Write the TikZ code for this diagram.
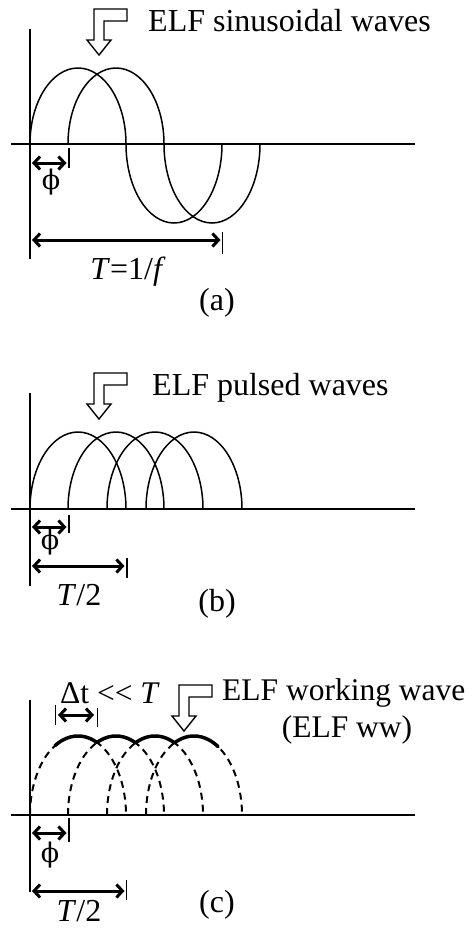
\documentclass[tikz,border=0pt]{standalone}
\usepackage{fontspec}
\setmainfont{Liberation Serif}
\newfontfamily\phifont{DejaVu Serif}
\usetikzlibrary{arrows.meta}
\begin{document}
\begin{tikzpicture}[x=1pt,y=-1pt,
  axisline/.style={line width=1.4pt},
  wave/.style={line width=1.5pt},
  dimarrow/.style={line width=3pt,{Straight Barb[length=6pt,width=13pt]}-{Straight Barb[length=6pt,width=13pt]}},
  tickmark/.style={line width=1.6pt},
  lbl/.style={inner sep=0pt,font=\fontsize{32}{38}\selectfont},
  lblc/.style={inner sep=0pt,font=\fontsize{31.5}{37}\selectfont},
  phil/.style={inner sep=0pt,font=\phifont\fontsize{27}{32}\selectfont},
  blockarrow/.style={line width=1.4pt,fill=white,line join=miter},
  env/.style={line width=3.5pt,line cap=round},
  dashwave/.style={line width=2pt,dash pattern=on 7pt off 5pt},
  barrow/.pic={\draw[blockarrow] (-5,-46) -- (28,-46) -- (28,-34) -- (5,-34) -- (5,-15) -- (12,-15) -- (0,0) -- (-12,-15) -- (-5,-15) -- cycle;}]
\useasboundingbox (0,0) rectangle (475,930);

% ---------- (a) ----------
\draw[axisline] (30,29) -- (30,259);
\draw[axisline] (11,144) -- (415,144);
\foreach \s in {30,68}
  \draw[wave] (\s,144) arc[start angle=180,end angle=360,x radius=48,y radius=76]
                       arc[start angle=180,end angle=0,x radius=48,y radius=79];
\pic at (99,55) {barrow};
\node[lbl,anchor=base west] (ta) at (148,31) {ELF sinusoidal waves};
\node[phil] (phia) at (51,182) {ϕ};
\coordinate (pa1) at (32,163); \coordinate (pa2) at (66.5,163);
\draw[dimarrow] (pa1) -- (pa2);
\draw[tickmark] (69,148) -- (69,168);
\coordinate (Ta1) at (32,240); \coordinate (Ta2) at (220.5,240);
\draw[dimarrow] (Ta1) -- (Ta2);
\draw[tickmark] (222.5,232) -- (222.5,254);
\node[lbl,anchor=base] (Tla) at (128,279) {\textit{T}=1/\textit{f}};
\node[lbl] (capa) at (217,303) {(a)};

% ---------- (b) ----------
\draw[axisline] (30,393) -- (30,586);
\draw[axisline] (11,509) -- (415,509);
\foreach \s in {30,68,107,146}
  \draw[wave] (\s,509) arc[start angle=180,end angle=360,x radius=48,y radius=77];
\pic at (99,419) {barrow};
\node[lbl,anchor=base west] (tb) at (152,395) {ELF pulsed waves};
\node[phil] (phib) at (50,542) {ϕ};
\coordinate (pb1) at (32,527); \coordinate (pb2) at (66.5,527);
\draw[dimarrow] (pb1) -- (pb2);
\draw[tickmark] (69,515) -- (69,533);
\coordinate (Tb1) at (32,566); \coordinate (Tb2) at (124.5,566);
\draw[dimarrow] (Tb1) -- (Tb2);
\draw[tickmark] (127,558) -- (127,578);
\node[lbl,anchor=base] (Tlb) at (79,605) {\textit{T}/2};
\node[lbl] (capb) at (217,604) {(b)};

% ---------- (c) ----------
\draw[axisline] (30,700) -- (30,892);
\draw[axisline] (11,815) -- (415,815);
\foreach \s in {30,68,107,146}
  \draw[dashwave] (\s,815) arc[start angle=180,end angle=360,x radius=48,y radius=79];
\draw[env] plot[domain=55:97,samples=30,smooth] (\x,{815-79*sqrt(1-((\x-78)/48)^2)});
\draw[env] plot[domain=97:135.5,samples=30,smooth] (\x,{815-79*sqrt(1-((\x-116)/48)^2)});
\draw[env] plot[domain=135.5:174.5,samples=30,smooth] (\x,{815-79*sqrt(1-((\x-155)/48)^2)});
\draw[env] plot[domain=174.5:218,samples=30,smooth] (\x,{815-79*sqrt(1-((\x-194)/48)^2)});
\pic at (184,731) {barrow};
\node[lblc,anchor=base west] (tc) at (222,700) {ELF working wave};
\node[lblc,anchor=base] (tc2) at (347,737) {(ELF ww)};
\node[lblc,anchor=base west] (dt) at (60,703) {Δt <{}< \textit{T}};
\coordinate (d1) at (58,715); \coordinate (d2) at (94,715);
\draw[dimarrow] (d1) -- (d2);
\draw[tickmark] (55.5,705) -- (55.5,725);
\draw[tickmark] (97.5,708) -- (97.5,727);
\node[phil] (phic) at (50,855) {ϕ};
\coordinate (pc1) at (32,833); \coordinate (pc2) at (66.5,833);
\draw[dimarrow] (pc1) -- (pc2);
\draw[tickmark] (69,818) -- (69,842);
\coordinate (Tc1) at (32,891); \coordinate (Tc2) at (124.5,891);
\draw[dimarrow] (Tc1) -- (Tc2);
\draw[tickmark] (126.5,880) -- (126.5,900);
\node[lbl,anchor=base] (Tlc) at (79,921) {\textit{T}/2};
\node[lbl] (capc) at (217,905) {(c)};
\end{tikzpicture}
\end{document}
